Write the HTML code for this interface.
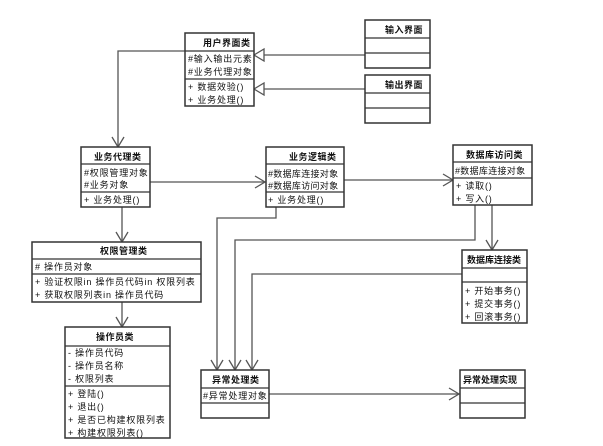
<!DOCTYPE html>
<html><head><meta charset="utf-8"><style>
html,body{margin:0;padding:0;background:#fff;}
svg{display:block}
text{font-family:"Liberation Sans","Noto Sans CJK SC","WenQuanYi Zen Hei",sans-serif;font-size:9px;fill:#111;letter-spacing:0.8px}
.h{font-weight:bold;letter-spacing:0.5px}
.b{fill:#fff;stroke:#333;stroke-width:1.5}
.d{stroke:#333;stroke-width:1.2}
.l{fill:none;stroke:#555;stroke-width:1.3}
</style></head><body>
<svg width="603" height="446" viewBox="0 0 603 446" xmlns="http://www.w3.org/2000/svg">
<!-- connectors -->
<g class="l">
<polyline points="365,55 254,55"/>
<polyline points="365,89 254,89"/>
<polygon points="254,55 264,49 264,61" fill="#fff"/>
<polygon points="254,89 264,83 264,95" fill="#fff"/>
<polyline points="185,51 118,51 118,147"/>
<polyline points="112,137 118,147 124,137"/>
<polyline points="150,182 265,182"/>
<polyline points="255,176 265,182 255,188"/>
<polyline points="344,180 453,180"/>
<polyline points="443,174 453,180 443,186"/>
<polyline points="492,205 492,250"/>
<polyline points="486,240 492,250 498,240"/>
<polyline points="475,205 475,240 235,240 235,370"/>
<polyline points="229,360 235,370 241,360"/>
<polyline points="276,207 276,218 217,218 217,370"/>
<polyline points="211,360 217,370 223,360"/>
<polyline points="462,274 252,274 252,370"/>
<polyline points="246,360 252,370 258,360"/>
<polyline points="269,394 459,394"/>
<polyline points="449,388 459,394 449,400"/>
<polyline points="122,207 122,242"/>
<polyline points="116,232 122,242 128,232"/>
<polyline points="122,302 122,327"/>
<polyline points="116,317 122,327 128,317"/>
</g>

<!-- 用户界面类 -->
<rect class="b" x="185" y="33" width="69" height="73"/>
<line class="d" x1="185" y1="51" x2="254" y2="51"/><line class="d" x1="185" y1="79" x2="254" y2="79"/>
<text class="h" x="203" y="46">用户界面类</text>
<text x="188" y="62">#输入输出元素</text>
<text x="188" y="75">#业务代理对象</text>
<text x="188" y="90">+ 数据效验()</text>
<text x="188" y="103">+ 业务处理()</text>

<!-- 输入界面 -->
<rect class="b" x="365" y="20" width="65" height="48"/>
<line class="d" x1="365" y1="38" x2="430" y2="38"/><line class="d" x1="365" y1="53" x2="430" y2="53"/>
<text class="h" x="385" y="33">输入界面</text>
<!-- 输出界面 -->
<rect class="b" x="365" y="75" width="65" height="48"/>
<line class="d" x1="365" y1="93" x2="430" y2="93"/><line class="d" x1="365" y1="108" x2="430" y2="108"/>
<text class="h" x="385" y="88">输出界面</text>

<!-- 业务代理类 -->
<rect class="b" x="81" y="147" width="69" height="60"/>
<line class="d" x1="81" y1="164" x2="150" y2="164"/><line class="d" x1="81" y1="192" x2="150" y2="192"/>
<text class="h" x="94" y="160">业务代理类</text>
<text x="84" y="176">#权限管理对象</text>
<text x="84" y="188">#业务对象</text>
<text x="84" y="203">+ 业务处理()</text>

<!-- 业务逻辑类 -->
<rect class="b" x="266" y="147" width="78" height="60"/>
<line class="d" x1="266" y1="164" x2="344" y2="164"/><line class="d" x1="266" y1="192" x2="344" y2="192"/>
<text class="h" x="289" y="160">业务逻辑类</text>
<text x="268" y="177" style="letter-spacing:0.3px">#数据库连接对象</text>
<text x="268" y="189" style="letter-spacing:0.3px">#数据库访问对象</text>
<text x="268" y="203">+ 业务处理()</text>

<!-- 数据库访问类 -->
<rect class="b" x="453" y="145" width="79" height="60"/>
<line class="d" x1="453" y1="162" x2="532" y2="162"/><line class="d" x1="453" y1="178" x2="532" y2="178"/>
<text class="h" x="466" y="158">数据库访问类</text>
<text x="455" y="174" style="letter-spacing:0.3px">#数据库连接对象</text>
<text x="456" y="189">+ 读取()</text>
<text x="456" y="202">+ 写入()</text>

<!-- 数据库连接类 -->
<rect class="b" x="462" y="250" width="65" height="73"/>
<line class="d" x1="462" y1="268" x2="527" y2="268"/><line class="d" x1="462" y1="282" x2="527" y2="282"/>
<text class="h" x="467" y="263" style="letter-spacing:0">数据库连接类</text>
<text x="465" y="294">+ 开始事务()</text>
<text x="465" y="307">+ 提交事务()</text>
<text x="465" y="320">+ 回滚事务()</text>

<!-- 权限管理类 -->
<rect class="b" x="32" y="242" width="169" height="60"/>
<line class="d" x1="32" y1="259" x2="201" y2="259"/><line class="d" x1="32" y1="274" x2="201" y2="274"/>
<text class="h" x="100" y="254">权限管理类</text>
<text x="35" y="270"># 操作员对象</text>
<text x="35" y="285">+ 验证权限in 操作员代码in 权限列表</text>
<text x="35" y="298">+ 获取权限列表in 操作员代码</text>

<!-- 操作员类 -->
<rect class="b" x="65" y="327" width="105" height="111"/>
<line class="d" x1="65" y1="346" x2="170" y2="346"/><line class="d" x1="65" y1="386" x2="170" y2="386"/>
<text class="h" x="96" y="340">操作员类</text>
<text x="68" y="356">- 操作员代码</text>
<text x="68" y="369">- 操作员名称</text>
<text x="68" y="382">- 权限列表</text>
<text x="68" y="397">+ 登陆()</text>
<text x="68" y="410">+ 退出()</text>
<text x="68" y="423">+  是否已构建权限列表</text>
<text x="68" y="436">+ 构建权限列表()</text>

<!-- 异常处理类 -->
<rect class="b" x="201" y="370" width="68" height="48"/>
<line class="d" x1="201" y1="388" x2="269" y2="388"/><line class="d" x1="201" y1="403" x2="269" y2="403"/>
<text class="h" x="212" y="383">异常处理类</text>
<text x="203" y="399">#异常处理对象</text>

<!-- 异常处理实现 -->
<rect class="b" x="460" y="370" width="65" height="48"/>
<line class="d" x1="460" y1="388" x2="525" y2="388"/><line class="d" x1="460" y1="403" x2="525" y2="403"/>
<text class="h" x="463" y="383" style="letter-spacing:0">异常处理实现</text>
</svg>
</body></html>
